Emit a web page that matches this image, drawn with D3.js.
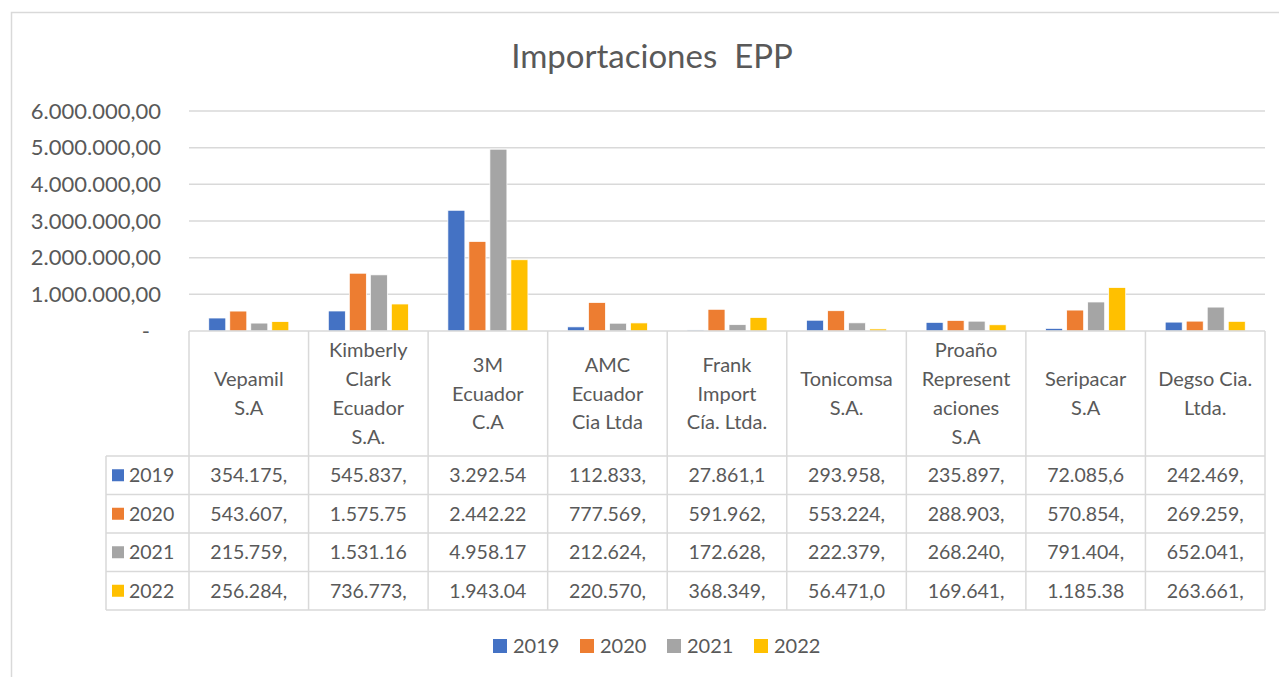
<!DOCTYPE html>
<html>
<head>
<meta charset="utf-8">
<script src="https://cdn.jsdelivr.net/npm/d3@7"></script>
<style>
  body { margin: 0; background: #fff; }
  text { font-family: Lato, "Open Sans", sans-serif; fill: #595959; }
</style>
</head>
<body>
<div class="g-chart-container"></div>
<script>
// data
var categories = ["Vepamil S.A", "Kimberly Clark Ecuador S.A.", "3M Ecuador C.A", "AMC Ecuador Cia Ltda",
  "Frank Import Cía. Ltda.", "Tonicomsa S.A.", "Proaño Representaciones S.A", "Seripacar S.A", "Degso Cia. Ltda."];
// how the header cells wrap
var categoryLines = [
  ["Vepamil", "S.A"],
  ["Kimberly", "Clark", "Ecuador", "S.A."],
  ["3M", "Ecuador", "C.A"],
  ["AMC", "Ecuador", "Cia Ltda"],
  ["Frank", "Import", "Cía. Ltda."],
  ["Tonicomsa", "S.A."],
  ["Proaño", "Represent", "aciones", "S.A"],
  ["Seripacar", "S.A"],
  ["Degso Cia.", "Ltda."]
];
var years = ["2019", "2020", "2021", "2022"];
var values2019 = [354175, 545837, 3292540, 112833, 27861.1, 293958, 235897, 72085.6, 242469];
var values2020 = [543607, 1575750, 2442220, 777569, 591962, 553224, 288903, 570854, 269259];
var values2021 = [215759, 1531160, 4958170, 212624, 172628, 222379, 268240, 791404, 652041];
var values2022 = [256284, 736773, 1943040, 220570, 368349, 56471.0, 169641, 1185380, 263661];
var colors = ["#4472C4", "#ED7D31", "#A5A5A5", "#FFC000"];
var tickValues = [0, 1000000, 2000000, 3000000, 4000000, 5000000, 6000000];
var tickLabels = ["-", "1.000.000,00", "2.000.000,00", "3.000.000,00", "4.000.000,00", "5.000.000,00", "6.000.000,00"];

var series = [values2019, values2020, values2021, values2022].map(function(v, i){
  return { year: years[i], color: colors[i], values: v };
});

var width = 1279;
var height = 677;
var plot = { left: 189, right: 1265, top: 111, bottom: 331 };
var table = { left: 106, headerBottom: 456, rowH: 38.5 };
var grey = "#D9D9D9";

var es = d3.formatLocale({ decimal: ",", thousands: ".", grouping: [3], currency: ["", ""] });
var fmt = es.format(",.2f");
// excel clips the cell text, about 8 characters fit
function cellText(v){ return fmt(v).slice(0, 8); }

var svg = d3.select(".g-chart-container")
  .append("svg")
  .attr("width", width)
  .attr("height", height);

// chart frame (runs off the right and bottom edge)
svg.append("rect")
  .attr("x", 11.5).attr("y", 12.5)
  .attr("width", width + 20).attr("height", height + 20)
  .attr("fill", "none")
  .attr("stroke", grey)
  .attr("stroke-width", 1.5);

svg.append("text")
  .attr("x", 652).attr("y", 68)
  .attr("text-anchor", "middle")
  .style("font-size", "33px")
  .style("white-space", "pre")
  .text("Importaciones  EPP");

// scales
var x0 = d3.scaleBand().domain(categories).range([plot.left, plot.right]);
var x1 = d3.scaleBand().domain(years).range([0, x0.bandwidth()])
  .paddingInner(0.19).paddingOuter(0.94);
var y = d3.scaleLinear().domain([0, 6000000]).range([plot.bottom, plot.top]);

// gridlines
svg.append("g").selectAll("line")
  .data(tickValues.slice(1))
  .enter().append("line")
  .attr("x1", plot.left).attr("x2", plot.right)
  .attr("y1", function(d){ return y(d); })
  .attr("y2", function(d){ return y(d); })
  .attr("stroke", grey).attr("stroke-width", 1.5);

var yAxis = svg.append("g")
  .attr("transform", "translate(" + plot.left + ",0)")
  .call(d3.axisLeft(y).tickValues(tickValues).tickSize(0).tickPadding(28)
    .tickFormat(function(d, i){ return tickLabels[i]; }));
yAxis.select(".domain").remove();
yAxis.selectAll("text")
  .style("font-family", "Lato, sans-serif")
  .style("font-size", "22px")
  .attr("fill", "#595959")
  .attr("dx", function(d){ return d === 0 ? -11 : 0; });

// bars
var groups = svg.append("g").selectAll("g")
  .data(series)
  .enter().append("g")
  .attr("fill", function(d){ return d.color; });

groups.selectAll("rect")
  .data(function(s){
    return s.values.map(function(v, i){ return { year: s.year, cat: categories[i], value: v }; });
  })
  .enter().append("rect")
  .attr("x", function(d){ return x0(d.cat) + x1(d.year); })
  .attr("width", x1.bandwidth())
  .attr("y", function(d){ return y(d.value); })
  .attr("height", function(d){ return plot.bottom - y(d.value); })
  .attr("stroke", "#fff")
  .attr("stroke-width", 0.75);

// data table
var tableBottom = table.headerBottom + table.rowH * years.length;
var tbl = svg.append("g").attr("stroke", grey).attr("stroke-width", 1.5);

// horizontal lines
tbl.append("line")
  .attr("x1", plot.left).attr("x2", plot.right)
  .attr("y1", plot.bottom).attr("y2", plot.bottom);
tbl.selectAll(".row-line")
  .data(d3.range(years.length + 1))
  .enter().append("line")
  .attr("x1", table.left).attr("x2", plot.right)
  .attr("y1", function(i){ return table.headerBottom + i * table.rowH; })
  .attr("y2", function(i){ return table.headerBottom + i * table.rowH; });

// vertical lines
var colEdges = categories.map(function(c){ return x0(c); }).concat([plot.right]);
tbl.selectAll(".col-line")
  .data(colEdges)
  .enter().append("line")
  .attr("x1", function(d){ return d; }).attr("x2", function(d){ return d; })
  .attr("y1", plot.bottom).attr("y2", tableBottom);
tbl.append("line")
  .attr("x1", table.left).attr("x2", table.left)
  .attr("y1", table.headerBottom).attr("y2", tableBottom);

// header text
var headerMid = (plot.bottom + table.headerBottom) / 2;
var lineH = 28.7;
categoryLines.forEach(function(lines, ci){
  var cx = x0(categories[ci]) + x0.bandwidth() / 2;
  var startY = headerMid - (lines.length - 1) * lineH / 2;
  svg.append("g").selectAll("text")
    .data(lines)
    .enter().append("text")
    .attr("x", cx)
    .attr("y", function(d, i){ return startY + i * lineH; })
    .attr("dy", "0.35em")
    .attr("text-anchor", "middle")
    .style("font-size", "20px")
    .text(function(d){ return d; });
});

// rows
series.forEach(function(s, si){
  var cy = table.headerBottom + table.rowH * (si + 0.5);
  var row = svg.append("g");
  row.append("rect")
    .attr("x", 112).attr("y", cy - 6)
    .attr("width", 12).attr("height", 12)
    .attr("fill", s.color);
  row.append("text")
    .attr("x", 129).attr("y", cy)
    .attr("dy", "0.35em")
    .style("font-size", "19.5px")
    .text(s.year);
  row.selectAll(".cell")
    .data(s.values)
    .enter().append("text")
    .attr("x", function(d, i){ return x0(categories[i]) + x0.bandwidth() / 2; })
    .attr("y", cy)
    .attr("dy", "0.35em")
    .attr("text-anchor", "middle")
    .style("font-size", "19.5px")
    .text(function(d){ return cellText(d); });
});

// legend
var legendStep = 87;
var legendX = 493;
var legend = svg.append("g").selectAll("g")
  .data(series)
  .enter().append("g")
  .attr("transform", function(d, i){ return "translate(" + (legendX + i * legendStep) + ",646)"; });
legend.append("rect")
  .attr("x", 0).attr("y", -7)
  .attr("width", 14).attr("height", 14)
  .attr("fill", function(d){ return d.color; });
legend.append("text")
  .attr("x", 20).attr("y", 0)
  .attr("dy", "0.35em")
  .style("font-size", "20px")
  .text(function(d){ return d.year; });
</script>
</body>
</html>
